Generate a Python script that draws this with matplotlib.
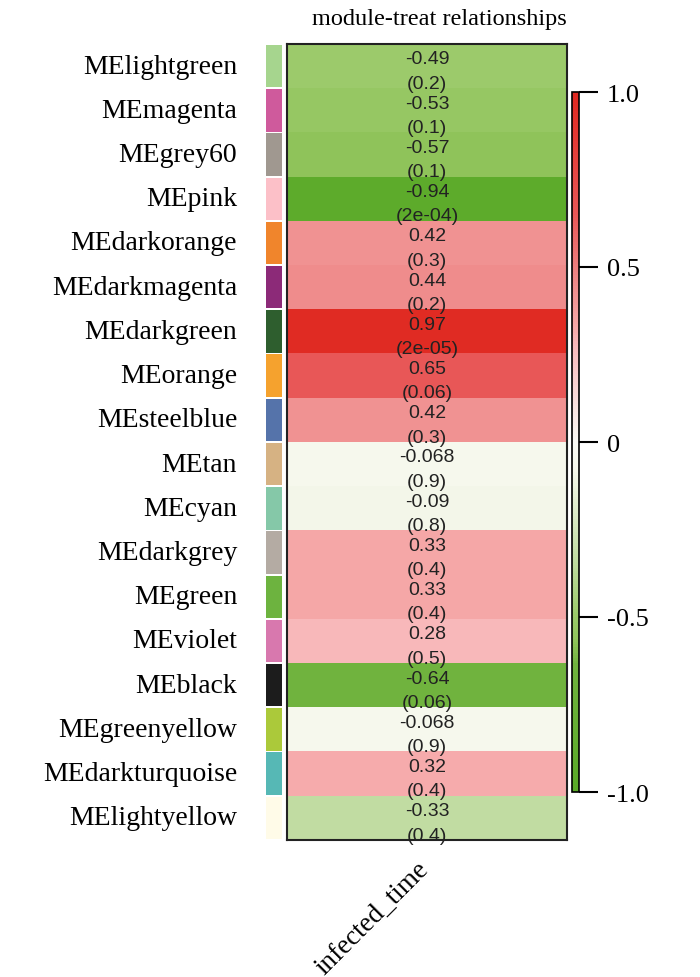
import numpy as np
import matplotlib.pyplot as plt
from matplotlib.colors import LinearSegmentedColormap, Normalize

modules = ['MElightgreen', 'MEmagenta', 'MEgrey60', 'MEpink', 'MEdarkorange',
           'MEdarkmagenta', 'MEdarkgreen', 'MEorange', 'MEsteelblue', 'MEtan',
           'MEcyan', 'MEdarkgrey', 'MEgreen', 'MEviolet', 'MEblack',
           'MEgreenyellow', 'MEdarkturquoise', 'MElightyellow']
swatch_colors = ['#a6d58e', '#cf5a9c', '#a09890', '#fcc0c8', '#f0852c',
                 '#8c2a78', '#2e5e2e', '#f5a22e', '#5573aa', '#d6b283',
                 '#85c8a8', '#b4aba3', '#6db33f', '#d878ae', '#1c1c1c',
                 '#abc93a', '#56b8b5', '#fffbe8']
corr = [-0.49, -0.53, -0.57, -0.94, 0.42, 0.44, 0.97, 0.65, 0.42, -0.068,
        -0.09, 0.33, 0.33, 0.28, -0.64, -0.068, 0.32, -0.33]
corr_labels = ['-0.49', '-0.53', '-0.57', '-0.94', '0.42', '0.44', '0.97',
               '0.65', '0.42', '-0.068', '-0.09', '0.33', '0.33', '0.28',
               '-0.64', '-0.068', '0.32', '-0.33']
pvals = ['0.2', '0.1', '0.1', '2e-04', '0.3', '0.2', '2e-05', '0.06', '0.3',
         '0.9', '0.8', '0.4', '0.4', '0.5', '0.06', '0.9', '0.4', '0.4']
trait = 'infected_time'

# green - white - red (not linear)
cmap = LinearSegmentedColormap.from_list('gwr', [
    (0.0, '#5aaa28'), (0.18, '#70b33e'), (0.215, '#8fc35a'),
    (0.255, '#9dcb6c'), (0.335, '#c2dda4'), (0.46, '#f6f8ec'),
    (0.5, '#fafaf5'), (0.64, '#f8b8ba'), (0.665, '#f6a8a8'),
    (0.715, '#f09090'), (0.825, '#e95858'), (1.0, '#e02820')])
norm = Normalize(-1, 1)

W, H = 700, 978
fig = plt.figure(figsize=(W / 100, H / 100), dpi=100)

def box(x0, y0, x1, y1):
    return [x0 / W, 1 - y1 / H, (x1 - x0) / W, (y1 - y0) / H]

n = len(modules)
ax = fig.add_axes(box(287, 45, 567, 841))
ax.imshow(np.array(corr).reshape(-1, 1), cmap=cmap, norm=norm,
          aspect='auto', extent=(0, 1, n, 0))
for i in range(n):
    ax.text(0.5, i + 0.44, corr_labels[i], ha='center', va='baseline',
            fontsize=14, family='Liberation Sans', color='#222222')
    ax.text(0.5, i + 0.99, '(' + pvals[i] + ')', ha='center', va='baseline',
            fontsize=14, family='Liberation Sans', color='#222222')
ax.set_xlim(0, 1)
ax.set_ylim(n, 0)
ax.set_xticks([])
ax.set_yticks([])
for s in ax.spines.values():
    s.set_linewidth(1.5)
    s.set_color('#222222')

fig.text(439 / W, 1 - 19 / H, 'module-treat relationships', ha='center',
         va='center', family='Liberation Serif', fontsize=17.5)
fig.text(434 / W, 1 - 857 / H, trait, rotation=45, ha='right', va='top',
         family='Liberation Serif', fontsize=19.5)

# module colour swatches
axs = fig.add_axes(box(266, 45, 282, 841))
axs.barh(np.arange(n) + 0.5, [1] * n, height=0.96, color=swatch_colors)
axs.set_ylim(n, 0)
axs.set_xlim(0, 1)
axs.axis('off')
for i, m in enumerate(modules):
    axs.text(-1.8, i + 0.5, m, ha='right', va='center',
             family='Liberation Serif', fontsize=20)

# colour bar
cax = fig.add_axes(box(572, 93, 579, 793))
cb = fig.colorbar(plt.cm.ScalarMappable(norm=norm, cmap=cmap), cax=cax)
cb.set_ticks([1.0, 0.5, 0, -0.5, -1.0])
cb.set_ticklabels(['1.0', '0.5', '0', '-0.5', '-1.0'])
cb.outline.set_linewidth(1.2)
cax.tick_params(length=13.5, width=1.5, pad=6.5, labelsize=19)
for t in cax.get_yticklabels():
    t.set_family('Liberation Serif')

fig.savefig('out.png', dpi=100)
